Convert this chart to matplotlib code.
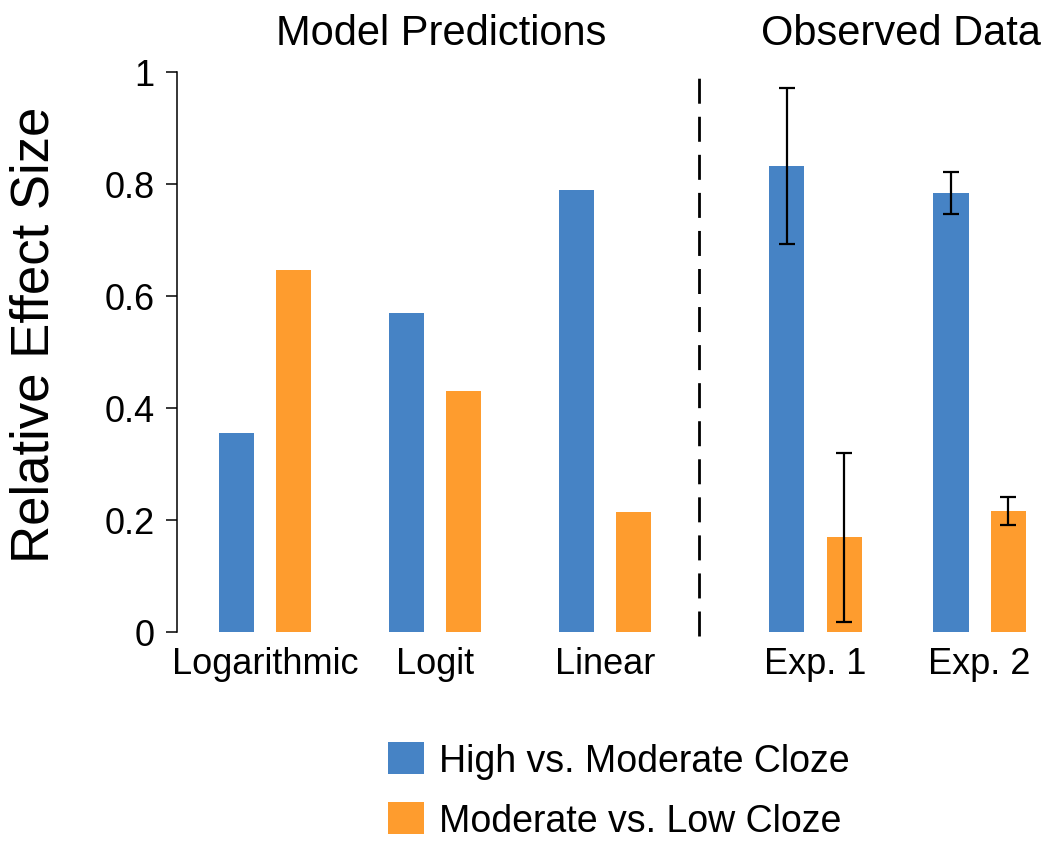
import matplotlib
matplotlib.use("Agg")
import matplotlib.pyplot as plt
from matplotlib.patches import Patch

plt.rcParams['font.family'] = ['Liberation Sans', 'DejaVu Sans']

# ---- data ----
categories = ["Logarithmic", "Logit", "Linear", "Exp. 1", "Exp. 2"]
high_vs_moderate = [0.355, 0.570, 0.790, 0.832, 0.784]
moderate_vs_low = [0.647, 0.431, 0.214, 0.169, 0.216]
high_err = [0.0, 0.0, 0.0, 0.140, 0.037]
low_err = [0.0, 0.0, 0.0, 0.151, 0.025]
series_labels = ["High vs. Moderate Cloze", "Moderate vs. Low Cloze"]
group_titles = ["Model Predictions", "Observed Data"]
y_ticks = [0, 0.2, 0.4, 0.6, 0.8, 1.0]
y_tick_labels = ["0", "0.2", "0.4", "0.6", "0.8", "1"]

# ---- layout ----
x_pos = [0, 1, 2, 3.238, 4.203]
sep_x = 2.553
offset = 0.168
width = 0.206
blue = "#4683C5"
orange = "#FE9C2E"

W, H = 1050, 862
fig = plt.figure(figsize=(W / 100, H / 100), dpi=100)
ax = fig.add_axes([177 / W, 1 - 633 / H, (1045 - 177) / W, (633 - 73) / H])

xb = [x - offset for x in x_pos]
xo = [x + offset for x in x_pos]
ax.bar(xb, high_vs_moderate, width=width, color=blue, label=series_labels[0])
ax.bar(xo, moderate_vs_low, width=width, color=orange, label=series_labels[1])

for xs, vals, errs in ((xb, high_vs_moderate, high_err), (xo, moderate_vs_low, low_err)):
    for x, v, e in zip(xs, vals, errs):
        if e > 0:
            ax.errorbar(x, v, yerr=e, fmt='none', ecolor='black', elinewidth=1.6,
                        capsize=5.5, capthick=1.6)

ax.axvline(sep_x, ymin=-0.007, ymax=1.005, color='black', lw=2,
           linestyle=(0, (9, 4.7)), clip_on=False)

ax.set_xlim(-0.518, 4.588)
ax.set_ylim(0, 1)
ax.set_yticks(y_ticks)
ax.set_yticklabels(y_tick_labels)
ax.set_xticks(x_pos)
ax.set_xticklabels(categories)
ax.tick_params(axis='y', length=8, width=1.1, labelsize=26, pad=8, direction='out')
ax.tick_params(axis='x', length=0, labelsize=26, pad=10)
for s in ('top', 'right', 'bottom'):
    ax.spines[s].set_visible(False)
ax.spines['left'].set_linewidth(1.1)

fig.text(441.5 / W, 1 - 45 / H, group_titles[0], fontsize=30, ha='center', va='baseline')
fig.text(901 / W, 1 - 45 / H, group_titles[1], fontsize=30, ha='center', va='baseline')
fig.text(35 / W, 1 - 334.5 / H, "Relative Effect Size", fontsize=38, rotation=90,
         ha='center', va='center')

handles = [Patch(facecolor=blue, label=series_labels[0]),
           Patch(facecolor=orange, label=series_labels[1])]
fig.legend(handles=handles, loc='upper left', bbox_to_anchor=(388 / W, 1 - 743 / H),
           frameon=False, fontsize=27, handlelength=0.95, handleheight=0.95,
           handletextpad=0.42, labelspacing=0.6, borderpad=0, borderaxespad=0)

fig.savefig("out.png", dpi=100)
